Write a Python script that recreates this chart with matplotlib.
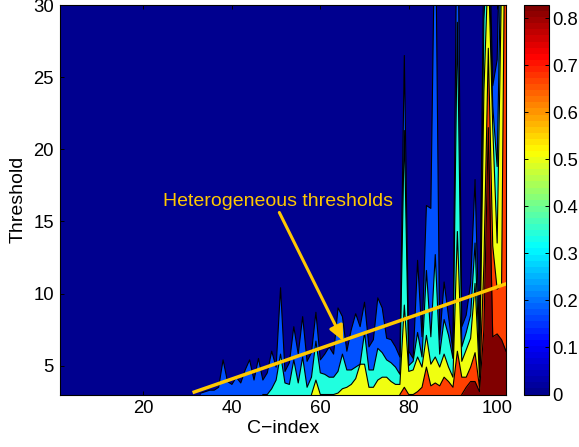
import matplotlib
matplotlib.use('Agg')
import matplotlib.pyplot as plt
from matplotlib.cm import ScalarMappable
from matplotlib.colors import LinearSegmentedColormap, Normalize

plt.rcParams['font.family'] = ['Liberation Sans', 'DejaVu Sans']

# height of each contour boundary (threshold) per C-index
blue_c = list(range(33, 103))
blue_top = [3.1, 3.2, 3.3, 3.3, 3.5, 5.4, 3.9,
            3.7, 4.2, 3.8, 4.7, 5.4, 4.0, 5.5, 4.0, 4.5, 6.0,
            4.9, 10.4, 4.6, 5.2, 7.7, 5.8, 8.4, 5.3, 5.9, 8.7,
            5.4, 5.8, 6.3, 5.8, 9.0, 8.4, 6.0, 7.5, 8.6, 7.7,
            9.4, 6.3, 6.8, 9.7, 9.0, 6.9, 6.8, 6.3, 5.6, 26.5,
            6.0, 5.5, 12.3, 7.0, 16.1, 15.9, 38, 6.8, 10.8, 8.4,
            6.0, 40, 7.7, 8.5, 10.7, 17.9, 6.3, 34, 38, 24.4,
            26.2, 40, 60]

cyan_c = list(range(47, 103))
cyan_top = [3.0, 3.0, 3.4,
            4.0, 5.8, 3.8, 3.7, 5.4, 3.8, 5.6, 3.5, 4.2, 6.7,
            4.5, 4.4, 4.2, 4.2, 4.6, 5.8, 4.7, 4.7, 4.9, 5.1,
            7.3, 4.7, 4.7, 6.2, 5.9, 5.4, 5.2, 4.9, 4.4, 21.3,
            5.0, 5.3, 7.3, 5.6, 11.6, 7.0, 12.7, 5.8, 8.2, 7.1,
            5.5, 28.8, 6.3, 7.3, 8.5, 13.5, 5.1, 29, 35, 23,
            18.8, 36, 55]

yellow_c = list(range(58, 103))
yellow_top = [3.0, 4.0,
              3.0, 3.0, 3.0, 3.0, 3.1, 3.4, 3.5, 3.7, 4.1, 5.1,
              5.1, 3.5, 3.5, 4.0, 4.2, 4.2, 3.9, 3.7, 3.7, 9.2,
              4.6, 4.7, 5.6, 4.9, 7.1, 5.1, 5.6, 4.9, 5.8, 4.9,
              4.2, 14.3, 5.3, 6.1, 6.9, 10.7, 4.2, 24, 33, 21.5,
              13.5, 32, 50]

orange_c = list(range(78, 103))
orange_top = [3.0, 3.5,
              3.0, 3.0, 3.2, 3.5, 4.9, 3.6, 3.8, 3.6, 4.2, 3.9,
              3.5, 6.0, 4.2, 4.2, 4.9, 5.9, 3.5, 12, 27, 13.3,
              10.3, 10.6, 45]

red_c = list(range(92, 103))
red_top = [3.0, 3.5, 3.9, 3.9, 3.2, 7.5, 21.5, 7.0, 7.2, 6.8, 6.0]

x_ticks = [20, 40, 60, 80, 100]
y_ticks = [5, 10, 15, 20, 25, 30]
cbar_ticks = [0, 0.1, 0.2, 0.3, 0.4, 0.5, 0.6, 0.7, 0.8]
cbar_labels = ['0', '0.1', '0.2', '0.3', '0.4', '0.5', '0.6', '0.7', '0.8']

GOLD = '#ffc800'
W, H = 579, 447

fig = plt.figure(figsize=(5.79, 4.47), dpi=100)
ax = fig.add_axes([59.5 / W, 1 - 394.5 / H, 446.5 / W, 389.5 / H])
ax.set_facecolor('#00008f')

layers = [
    (blue_c, blue_top, '#0050ff'),
    (cyan_c, cyan_top, '#20ffdf'),
    (yellow_c, yellow_top, '#f0ff10'),
    (orange_c, orange_top, '#ff4000'),
    (red_c, red_top, '#800000'),
]
for c, top, color in layers:
    ax.fill_between(c, 0, top, color=color, lw=0, zorder=2)
    ax.plot(c, top, color='black', lw=0.8, zorder=3)

# heterogeneous threshold line
ax.plot([31.1, 102.1], [3.13, 10.68], color=GOLD, lw=2.5, solid_capstyle='butt', zorder=4)
ax.annotate('Heterogeneous thresholds', xy=(65.2, 6.7), xytext=(24.4, 16.4),
            color=GOLD, fontsize=14, va='center', ha='left', zorder=5,
            arrowprops=dict(arrowstyle='-|>,head_width=0.3,head_length=0.65', color=GOLD, lw=2.2,
                            shrinkA=0, shrinkB=0, relpos=(0.5, 0)))

ax.set_xlim(1, 102)
ax.set_ylim(3, 30)
ax.set_xticks(x_ticks)
ax.set_yticks(y_ticks)
ax.tick_params(direction='in', top=True, right=True, labelsize=13.3, length=3, width=0.7, pad=4)
ax.set_xlabel('C\u2212index', fontsize=14, labelpad=2)
ax.set_ylabel('Threshold', fontsize=14, labelpad=5)

# colorbar, matlab style jet
jet = LinearSegmentedColormap.from_list(
    'matlab_jet',
    [(0, (0, 0, 0.5625)), (0.125, (0, 0, 1)), (0.375, (0, 1, 1)),
     (0.625, (1, 1, 0)), (0.875, (1, 0, 0)), (1, (0.5, 0, 0))], N=64)
cax = fig.add_axes([524 / W, 1 - 394.5 / H, 25 / W, 389.5 / H])
cb = fig.colorbar(ScalarMappable(Normalize(0, 0.828), jet), cax=cax)
cb.set_ticks(cbar_ticks)
cb.set_ticklabels(cbar_labels)
cax.tick_params(direction='in', left=True, right=True, labelsize=13.3, length=3, width=0.7, pad=2.5)

plt.savefig('out.png', dpi=100)
plt.close()
